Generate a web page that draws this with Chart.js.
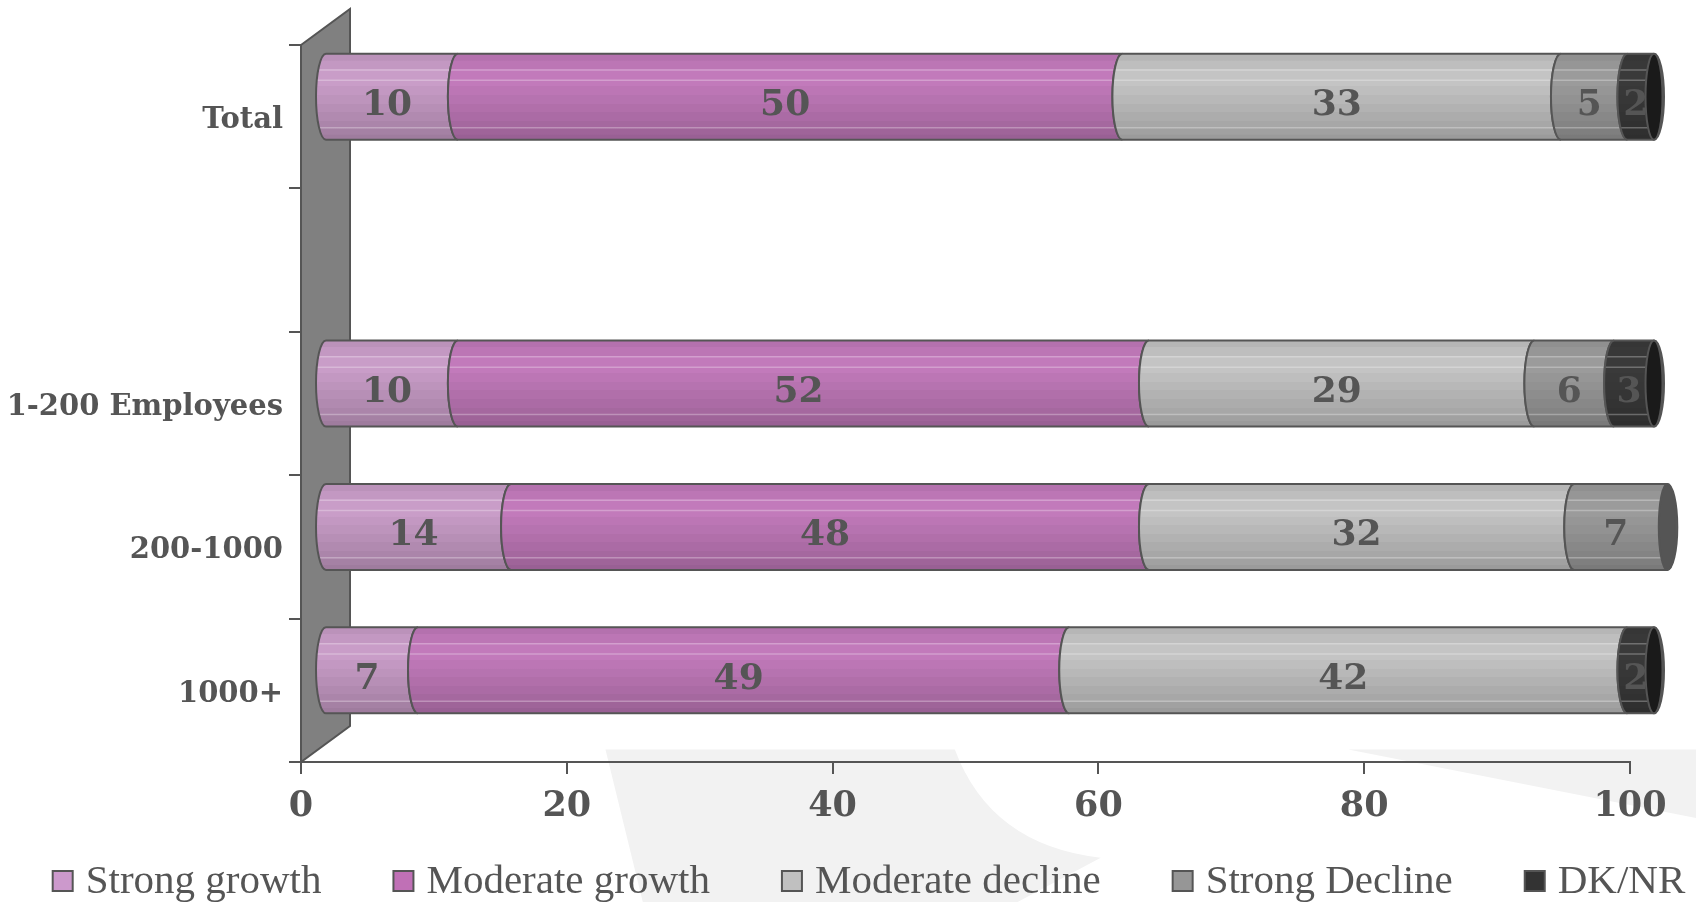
<!DOCTYPE html>
<html>
<head>
<meta charset="utf-8">
<script src="https://cdn.jsdelivr.net/npm/chart.js@4.4.1/dist/chart.umd.min.js"></script>
<style>
  html, body { margin: 0; padding: 0; background: #fff; }
  #wrap { width: 1696px; height: 902px; position: relative; }
</style>
</head>
<body>
<div id="wrap"><canvas id="chart"></canvas></div>
<script>
// Outlook by company size, % of respondents
const categories = ["Total", "", "1-200 Employees", "200-1000", "1000+"];
const seriesNames = ["Strong growth", "Moderate growth", "Moderate decline", "Strong Decline", "DK/NR"];

const strongGrowth    = [10, null, 10, 14, 7];
const moderateGrowth  = [50, null, 52, 48, 49];
const moderateDecline = [33, null, 29, 32, 42];
const strongDecline   = [5,  null, 6,  7,  0];
const dkNr            = [2,  null, 3,  0,  2];

const xTicks = [0, 20, 40, 60, 80, 100];

// legend swatch colour, lightest facet colour, end cap colour
const swatchColors = ["#cc99cc", "#c070b6", "#c0c0c0", "#969696", "#333333"];
const facetColors  = ["#c99dc8", "#c27abb", "#c4c4c4", "#9b9b9b", "#3a3a3a"];
const capColors    = ["#8a6488", "#80507a", "#8a8a8a", "#555555", "#1a1a1a"];

const TEXT = "#555555";
const EDGE = "#555555";

// 3d look: bars sit half way into the depth of the side wall
const WALL_DX = 49, WALL_DY = -36;
const BAR_DX = 24, BAR_DY = -20;
const RX = 10;

function shade(hex, f) {
  const n = parseInt(hex.slice(1), 16);
  const c = [(n >> 16) & 255, (n >> 8) & 255, n & 255].map(v => Math.max(0, Math.min(255, Math.round(v * f))));
  return `rgb(${c[0]},${c[1]},${c[2]})`;
}

// banded vertical gradient so the bar reads like a faceted cylinder
const bandStops = [0, 0.08, 0.18, 0.28, 0.38, 0.48, 0.58, 0.68, 0.78, 0.87, 0.94, 1];
const bandShade = [0.93, 0.97, 1.0, 1.0, 0.97, 0.94, 0.91, 0.88, 0.85, 0.82, 0.79, 0.76];

function facetFill(ctx, top, bottom, hex) {
  const g = ctx.createLinearGradient(0, top, 0, bottom);
  for (let k = 0; k < bandStops.length - 1; k++) {
    const col = shade(hex, bandShade[k]);
    g.addColorStop(bandStops[k], col);
    g.addColorStop(bandStops[k + 1] - 0.001, col);
  }
  g.addColorStop(1, shade(hex, bandShade[bandShade.length - 1]));
  return g;
}

function segmentPath(ctx, x0, x1, yc, hh, isLast) {
  ctx.beginPath();
  ctx.moveTo(x0, yc - hh);
  ctx.ellipse(x0, yc, RX, hh, 0, -Math.PI / 2, Math.PI / 2, true);
  ctx.lineTo(x1, yc + hh);
  if (isLast) {
    ctx.ellipse(x1, yc, RX, hh, 0, Math.PI / 2, -Math.PI / 2, true);
  } else {
    ctx.ellipse(x1, yc, RX, hh, 0, Math.PI / 2, Math.PI * 1.5, false);
  }
  ctx.closePath();
}

function drawSegment(ctx, x0, x1, yc, hh, i, isLast) {
  ctx.save();
  segmentPath(ctx, x0, x1, yc, hh, isLast);
  ctx.fillStyle = facetFill(ctx, yc - hh, yc + hh, facetColors[i]);
  ctx.fill();
  // thin highlight seams between facets
  ctx.clip();
  ctx.strokeStyle = "rgba(255,255,255,0.28)";
  ctx.lineWidth = 1.5;
  [0.19, 0.31, 0.86].forEach(f => {
    const y = yc - hh + f * 2 * hh;
    ctx.beginPath();
    ctx.moveTo(x0 - RX, y);
    ctx.lineTo(x1 + RX, y);
    ctx.stroke();
  });
  ctx.restore();

  ctx.save();
  segmentPath(ctx, x0, x1, yc, hh, isLast);
  ctx.strokeStyle = EDGE;
  ctx.lineWidth = 2;
  ctx.stroke();
  if (isLast) {
    ctx.beginPath();
    ctx.ellipse(x1, yc, RX * 0.85, hh, 0, 0, Math.PI * 2);
    ctx.fillStyle = capColors[i];
    ctx.fill();
    ctx.stroke();
  }
  ctx.restore();
}

const backdrop = {
  id: "backdrop",
  beforeDraw(chart) {
    const { ctx, width: w, height: h } = chart;
    ctx.save();
    ctx.fillStyle = "#f2f2f2";
    ctx.beginPath();
    ctx.moveTo(w * 0.357, h * 0.831);
    ctx.lineTo(w * 0.563, h * 0.831);
    ctx.quadraticCurveTo(w * 0.584, h * 0.937, w * 0.649, h * 0.951);
    ctx.lineTo(w * 0.600, h);
    ctx.lineTo(w * 0.379, h);
    ctx.closePath();
    ctx.fill();
    ctx.beginPath();
    ctx.moveTo(w * 0.795, h * 0.831);
    ctx.lineTo(w, h * 0.831);
    ctx.lineTo(w, h * 0.907);
    ctx.closePath();
    ctx.fill();
    ctx.restore();
  }
};

const cylinders = {
  id: "cylinders",
  beforeDatasetsDraw(chart) {
    const { ctx, chartArea: area } = chart;
    const yScale = chart.scales.y;

    // side wall
    const L = area.left, T = yScale.top, B = yScale.bottom;
    ctx.save();
    ctx.beginPath();
    ctx.moveTo(L, T);
    ctx.lineTo(L + WALL_DX, T + WALL_DY);
    ctx.lineTo(L + WALL_DX, B + WALL_DY);
    ctx.lineTo(L, B);
    ctx.closePath();
    ctx.fillStyle = "#808080";
    ctx.fill();
    ctx.strokeStyle = EDGE;
    ctx.lineWidth = 2;
    ctx.stroke();
    ctx.restore();

    const datasets = chart.data.datasets;
    chart.data.labels.forEach((_, j) => {
      let last = -1;
      datasets.forEach((ds, i) => { if (ds.data[j]) last = i; });
      datasets.forEach((ds, i) => {
        if (!ds.data[j]) return;
        const el = chart.getDatasetMeta(i).data[j];
        drawSegment(ctx, el.base + BAR_DX, el.x + BAR_DX, el.y + BAR_DY, el.height / 2, i, i === last);
      });
      datasets.forEach((ds, i) => {
        const v = ds.data[j];
        if (!v) return;
        const el = chart.getDatasetMeta(i).data[j];
        ctx.save();
        ctx.font = "bold 36px 'DejaVu Serif'";
        ctx.fillStyle = TEXT;
        ctx.textAlign = "center";
        ctx.textBaseline = "middle";
        ctx.fillText(String(v), (el.base + el.x) / 2 + BAR_DX - 5, el.y + BAR_DY + 9);
        ctx.restore();
      });
    });
    return false;
  }
};

// legend row along the bottom edge
const legendRow = {
  id: "legendRow",
  afterDraw(chart) {
    const { ctx, width: w } = chart;
    const box = 20, gap = 13, spacing = 72, yMid = 881;
    ctx.save();
    ctx.font = "41px 'Liberation Serif'";
    const widths = seriesNames.map(t => ctx.measureText(t).width);
    const total = widths.reduce((a, b) => a + b + box + gap, 0) + spacing * (seriesNames.length - 1);
    let x = w / 2 + 21 - total / 2;
    seriesNames.forEach((name, i) => {
      ctx.fillStyle = swatchColors[i];
      ctx.fillRect(x, yMid - box / 2, box, box);
      ctx.strokeStyle = EDGE;
      ctx.lineWidth = 2;
      ctx.strokeRect(x, yMid - box / 2, box, box);
      ctx.fillStyle = TEXT;
      ctx.textAlign = "left";
      ctx.textBaseline = "middle";
      ctx.fillText(name, x + box + gap, yMid + 1);
      x += box + gap + widths[i] + spacing;
    });
    ctx.restore();
  }
};

const seriesData = [strongGrowth, moderateGrowth, moderateDecline, strongDecline, dkNr];

new Chart(document.getElementById("chart"), {
  type: "bar",
  data: {
    labels: categories,
    datasets: seriesNames.map((name, i) => ({
      label: name,
      data: seriesData[i],
      backgroundColor: swatchColors[i],
      borderColor: EDGE,
      borderWidth: 2,
      categoryPercentage: 1,
      barPercentage: 0.6
    }))
  },
  options: {
    indexAxis: "y",
    responsive: true,
    maintainAspectRatio: false,
    animation: false,
    layout: { padding: { left: 0, top: 45, right: 0, bottom: 0 } },
    plugins: {
      tooltip: { enabled: false },
      legend: { display: false }
    },
    scales: {
      x: {
        stacked: true,
        min: 0,
        max: 100,
        afterBuildTicks: s => { s.ticks = xTicks.map(v => ({ value: v })); },
        afterFit: s => { s.height = 140; },
        grid: { drawOnChartArea: false, tickLength: 12, color: EDGE, lineWidth: 2 },
        border: { color: EDGE, width: 2 },
        ticks: { color: TEXT, padding: 12, font: { family: "'DejaVu Serif'", weight: "bold", size: 35 } }
      },
      y: {
        stacked: true,
        afterFit: s => { s.width = 301; },
        grid: { drawOnChartArea: false, offset: true, tickLength: 12, color: EDGE, lineWidth: 2 },
        border: { color: EDGE, width: 2 },
        ticks: { color: TEXT, padding: 6, labelOffset: 4, font: { family: "'DejaVu Serif'", weight: "bold", size: 29 } }
      },
      yRight: {
        type: "category",
        position: "right",
        grid: { display: false },
        border: { display: false },
        ticks: { display: false },
        afterFit: s => { s.width = 66; }
      }
    }
  },
  plugins: [backdrop, cylinders, legendRow]
});
</script>
</body>
</html>
